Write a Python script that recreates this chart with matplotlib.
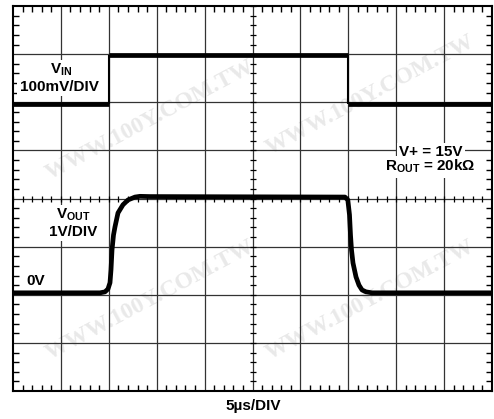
import numpy as np
import matplotlib
matplotlib.use('Agg')
import matplotlib.pyplot as plt

plt.rcParams['font.family'] = ['Liberation Sans', 'DejaVu Sans']
plt.rcParams['mathtext.fontset'] = 'custom'
plt.rcParams['mathtext.rm'] = 'Liberation Sans:bold'
plt.rcParams['mathtext.bf'] = 'Liberation Sans:bold'
plt.rcParams['mathtext.default'] = 'bf'

# scope screen: 10 x 8 divisions
n_xdiv = 10
n_ydiv = 8

# input step (in divisions)
vin_edges = [0, 2, 7, 10]
vin_levels = [5.96, 6.98, 5.96]

# output response (in divisions)
vout_t = [0, 1.816, 1.921, 1.983, 2.025, 2.046, 2.067, 2.098, 2.129, 2.192, 2.296,
          2.401, 2.547, 2.65, 2.86, 6.93, 6.99, 7.025, 7.046, 7.067, 7.098, 7.161,
          7.223, 7.286, 7.37, 7.495, 10]
vout_v = [2.04, 2.04, 2.06, 2.12, 2.25, 2.52, 2.93, 3.24, 3.41, 3.70, 3.87,
          3.97, 4.03, 4.045, 4.04, 4.03, 3.97, 3.66, 3.24, 2.93, 2.66, 2.37,
          2.20, 2.10, 2.06, 2.04, 2.04]

fig = plt.figure(figsize=(4.94, 4.19), dpi=100)
ax = fig.add_axes([13/494, 28/419, 479/494, 385/419])
ax.set_xlim(0, n_xdiv)
ax.set_ylim(0, n_ydiv)

# faint watermark, kept behind everything
wm = 'WWW.100Y.COM.TW'
for (px, py) in [(150, 120), (370, 95), (150, 300), (370, 300)]:
    ax.text(px/494, 1 - py/419, wm, transform=fig.transFigure, fontsize=17,
            fontweight='bold', family='Liberation Serif', color='#e9e9e9',
            rotation=28, ha='center', va='center', zorder=0.5)

# grid
for i in range(1, n_xdiv):
    ax.axvline(i, color='#333333', lw=0.9, zorder=1)
for j in range(1, n_ydiv):
    ax.axhline(j, color='#333333', lw=0.9, zorder=1)

# minor ticks on border
ax.set_xticks(np.arange(0, n_xdiv + 0.01, 1))
ax.set_yticks(np.arange(0, n_ydiv + 0.01, 1))
ax.set_xticks(np.arange(0, n_xdiv + 0.01, 0.2), minor=True)
ax.set_yticks(np.arange(0, n_ydiv + 0.01, 0.2), minor=True)
ax.tick_params(which='both', direction='in', top=True, right=True,
               labelbottom=False, labelleft=False)
ax.tick_params(which='major', length=0)
ax.tick_params(which='minor', length=4, width=1.0)
for s in ax.spines.values():
    s.set_linewidth(1.5)

# ticks on center lines
cx = np.arange(0, n_xdiv + 0.01, 0.2)
cy = np.arange(0, n_ydiv + 0.01, 0.2)
ax.plot(cx, [n_ydiv/2]*len(cx), ls='', marker='|', ms=5, mew=0.9, color='k', zorder=1)
ax.plot([n_xdiv/2]*len(cy), cy, ls='', marker='_', ms=5, mew=0.9, color='k', zorder=1)

# traces
ax.hlines(vin_levels, vin_edges[:-1], vin_edges[1:], color='k', lw=3.4, zorder=3)
ax.vlines(vin_edges[1:-1], min(vin_levels), max(vin_levels), color='k', lw=1.5, zorder=3)
ax.plot(vout_t, vout_v, color='k', lw=3.4, zorder=3, solid_capstyle='butt')

box = dict(fc='white', ec='none', pad=1.5)
kw = dict(fontsize=11, fontweight='bold', ha='center', va='center', zorder=4)
ax.text(1.0, 6.67, r'V$_{IN}$', bbox=box, **kw)
ax.text(0.96, 6.32, '100mV/DIV', bbox=box, **kw)
ax.text(1.26, 3.66, r'V$_{OUT}$', bbox=box, **kw)
ax.text(1.25, 3.31, '1V/DIV', bbox=box, **kw)
ax.text(0.48, 2.29, '0V', **kw)
ax.text(8.73, 4.97, 'V+ = 15V', bbox=box, **kw)
ax.text(8.72, 4.66, r'R$_{OUT}$ = 20kΩ', bbox=box, **kw)
fig.text(253/494, 1 - 406/419, '5µs/DIV', fontsize=11, fontweight='bold',
         ha='center', va='center')

fig.savefig('out.png', dpi=100)
